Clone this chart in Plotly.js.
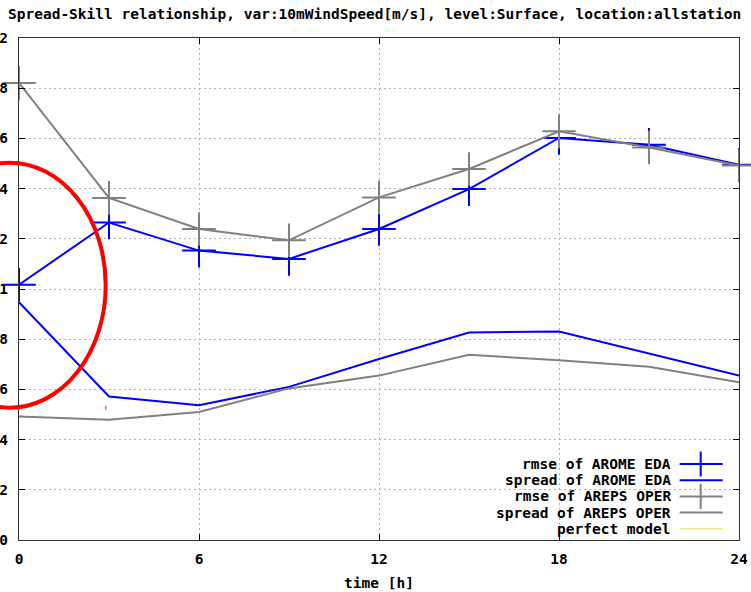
<!DOCTYPE html>
<html>
<head>
<meta charset="utf-8">
<script src="https://cdn.plot.ly/plotly-3.0.1.min.js"></script>
<style>
  html, body { margin: 0; padding: 0; background: #fff; }
  #chart { width: 751px; height: 592px; }
</style>
</head>
<body>
<div id="chart"></div>
<script>
// Forecast lead times (hours)
const hours = [0, 3, 6, 9, 12, 15, 18, 21, 24];

// 10 m wind speed scores, all stations, surface level
const rmseAromeEda    = [1.017, 1.265, 1.153, 1.120, 1.239, 1.398, 1.602, 1.575, 1.495];
const spreadAromeEda  = [0.947, 0.572, 0.537, 0.610, 0.721, 0.827, 0.831, 0.743, 0.655];
const rmseArepsOper   = [1.821, 1.363, 1.239, 1.194, 1.365, 1.478, 1.628, 1.564, 1.492];
const spreadArepsOper = [0.492, 0.479, 0.510, 0.604, 0.655, 0.738, 0.716, 0.690, 0.628];

// Key entries
const keyLabels = ['rmse of AROME EDA', 'spread of AROME EDA', 'rmse of AREPS OPER',
                   'spread of AREPS OPER', 'perfect model'];
const keyColors = ['#0000ff', '#0000ff', '#808080', '#808080', '#f0e68c'];
const keyCross  = [true, false, true, false, false];

const xTicks = [0, 6, 12, 18, 24];
const yTicks = [0, 0.2, 0.4, 0.6, 0.8, 1, 1.2, 1.4, 1.6, 1.8, 2];

const FONT = { family: 'DejaVu Sans Mono, Liberation Mono, monospace', size: 14.5, color: '#000', weight: 'bold' };

// Page-pixel -> paper coordinate helpers (plot box 720 x 502 at left 19, top 38)
const W = 751, H = 592, L = 19.3, T = 38.3, PW = 720, PH = 502;
const px = v => (v - L) / PW;
const py = v => (T + PH - v) / PH;

const BLUE = '#0000ff', GREY = '#808080';

function series(y, color, cross) {
  const tr = {
    x: hours, y: y, type: 'scatter',
    mode: cross ? 'lines+markers' : 'lines',
    line: { color: color, width: 2 },
    cliponaxis: false,
    showlegend: false, hoverinfo: 'x+y'
  };
  if (cross) {
    tr.marker = { symbol: 'cross-thin', size: 24, color: color, line: { color: color, width: 2 } };
  }
  return tr;
}

const data = [
  series(rmseAromeEda, BLUE, true),
  series(spreadAromeEda, BLUE, false),
  series(rmseArepsOper, GREY, true),
  series(spreadArepsOper, GREY, false)
];

// Opaque key background, key samples, highlight ellipse
const shapes = [
  { type: 'rect', xref: 'paper', yref: 'paper', layer: 'between',
    x0: px(493), x1: px(738), y0: py(539), y1: py(452),
    fillcolor: '#fff', line: { width: 0 } },
  { type: 'circle', xref: 'paper', yref: 'paper', layer: 'above',
    x0: px(-86), x1: px(106), y0: py(408), y1: py(163),
    line: { color: '#ff0000', width: 4 } },
  { type: 'line', xref: 'paper', yref: 'paper', layer: 'above',
    x0: px(106), x1: px(106), y0: py(406), y1: py(410),
    line: { color: '#ff6060', width: 1.5 } }
];
const annotations = [];
const rowY = [464.3, 480.5, 496.7, 512.9, 529.1];
keyLabels.forEach((lab, i) => {
  annotations.push({
    xref: 'paper', yref: 'paper', x: px(673), y: py(rowY[i]),
    xanchor: 'right', yanchor: 'middle', showarrow: false,
    text: lab, font: FONT
  });
  shapes.push({
    type: 'line', xref: 'paper', yref: 'paper', layer: 'above',
    x0: px(680), x1: px(723), y0: py(rowY[i]), y1: py(rowY[i]),
    line: { color: keyColors[i], width: i === 4 ? 1.5 : 2 }
  });
  if (keyCross[i]) {
    shapes.push({
      type: 'line', xref: 'paper', yref: 'paper', layer: 'above',
      x0: px(701), x1: px(701), y0: py(rowY[i] - 12.5), y1: py(rowY[i] + 12.5),
      line: { color: keyColors[i], width: 2 }
    });
  }
});

const axisCommon = {
  showline: true, linecolor: '#303030', linewidth: 1, mirror: 'ticks',
  ticks: 'inside', ticklen: 6, tickcolor: '#000', tickwidth: 1,
  showgrid: true, gridcolor: '#b0b0b0', gridwidth: 1, griddash: '2px,3px',
  zeroline: false, tickfont: FONT, fixedrange: true
};

const layout = {
  width: W, height: H,
  margin: { l: 19, r: 12, t: 38, b: 52, pad: 0 },
  paper_bgcolor: '#fff', plot_bgcolor: '#fff',
  showlegend: false,
  title: {
    text: 'Spread-Skill relationship, var:10mWindSpeed[m/s], level:Surface, location:allstation',
    font: FONT, xref: 'container', yref: 'container',
    x: 8 / W, xanchor: 'left', y: 1 - 14 / H, yanchor: 'middle'
  },
  xaxis: Object.assign({}, axisCommon, {
    range: [0, 24], tickvals: xTicks, ticktext: xTicks.map(String),
    ticklabelstandoff: 6,
    title: { text: 'time [h]', font: FONT, standoff: 11 }
  }),
  yaxis: Object.assign({}, axisCommon, {
    range: [0, 2], tickvals: yTicks, ticktext: yTicks.map(String),
    ticklabelstandoff: 7
  }),
  shapes: shapes,
  annotations: annotations
};

Plotly.newPlot('chart', data, layout, { displayModeBar: false, staticPlot: true });
</script>
</body>
</html>
